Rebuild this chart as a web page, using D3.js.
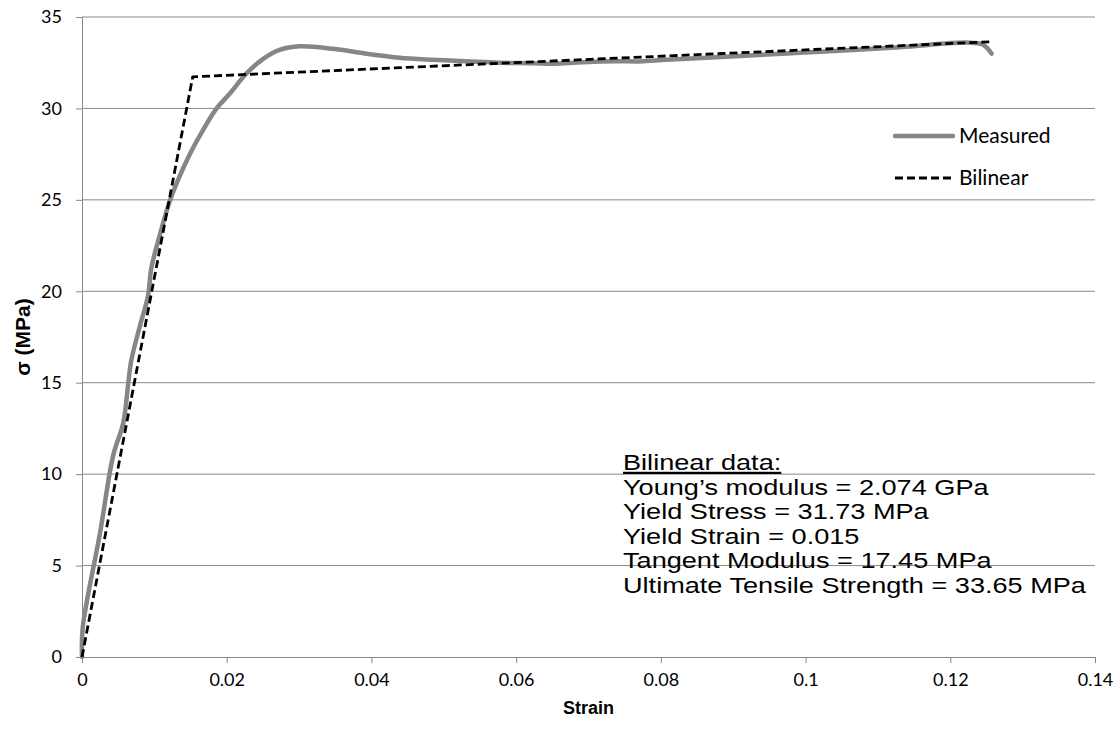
<!DOCTYPE html>
<html>
<head>
<meta charset="utf-8">
<script src="https://cdn.jsdelivr.net/npm/d3@7"></script>
<style>
  body { margin: 0; background: #fff; }
  svg { display: block; }
</style>
</head>
<body>
<div id="chart"></div>
<script>
// Dados
const measuredStrain = [0, 0.0001, 0.0025, 0.0043, 0.0057, 0.0064, 0.0068, 0.0080, 0.0091, 0.0096, 0.0107, 0.0121, 0.0135, 0.0149, 0.0167, 0.0186, 0.0204, 0.0227, 0.0250, 0.0273, 0.0301, 0.0347, 0.0393, 0.0439, 0.0485, 0.0531, 0.0577, 0.0623, 0.0651, 0.0692, 0.0739, 0.0771, 0.0808, 0.0877, 0.0992, 0.1130, 0.1222, 0.1245, 0.1257];
const measuredStress = [0, 1.6, 6.8, 11.0, 12.8, 15.0, 16.2, 18.1, 19.7, 21.3, 23.0, 24.9, 26.3, 27.5, 28.8, 30.0, 30.8, 31.9, 32.7, 33.2, 33.4, 33.26, 32.99, 32.77, 32.66, 32.58, 32.5, 32.47, 32.44, 32.53, 32.58, 32.57, 32.66, 32.8, 33.04, 33.35, 33.6, 33.5, 33.0];
const bilinearStrain = [0, 0.0153, 0.1257];
const bilinearStress = [0, 31.73, 33.65];

const xTicks = [0, 0.02, 0.04, 0.06, 0.08, 0.1, 0.12, 0.14];
const yTicks = [0, 5, 10, 15, 20, 25, 30, 35];
const seriesNames = ["Measured", "Bilinear"];
const notes = ["Young’s modulus = 2.074 GPa", "Yield Stress = 31.73 MPa", "Yield Strain = 0.015", "Tangent Modulus = 17.45 MPa", "Ultimate Tensile Strength = 33.65 MPa"];

const W = 1117, H = 730;
const margin = { top: 17, right: 22, bottom: 73, left: 82 };
const width = W - margin.left - margin.right;
const height = H - margin.top - margin.bottom;

const svg = d3.select("#chart").append("svg")
    .attr("width", W)
    .attr("height", H);

const g = svg.append("g")
    .attr("transform", `translate(${margin.left},${margin.top})`);

const x = d3.scaleLinear().domain([0, 0.14]).range([0, width]);
const y = d3.scaleLinear().domain([0, 35]).range([height, 0]);

const gridColor = "#888";
const tickFont = "Lato, 'Open Sans', sans-serif";
const arial = "'Liberation Sans', Arial, sans-serif";

// Grid horizontal
g.append("g")
    .selectAll("line")
    .data(yTicks.filter(d => d > 0))
    .enter()
    .append("line")
    .attr("x1", 0)
    .attr("x2", width)
    .attr("y1", d => y(d))
    .attr("y2", d => y(d))
    .attr("stroke", gridColor)
    .attr("stroke-width", 1);

// Eixos
const xAxis = g.append("g")
    .attr("transform", `translate(0,${height})`)
    .call(d3.axisBottom(x).tickValues(xTicks).tickSize(6).tickSizeOuter(0).tickPadding(10).tickFormat(d => d3.format("")(+d.toFixed(2))));

const yAxis = g.append("g")
    .call(d3.axisLeft(y).tickValues(yTicks).tickSize(6).tickSizeOuter(0).tickPadding(14));

[xAxis, yAxis].forEach(a => {
    a.select(".domain").attr("stroke", gridColor);
    a.selectAll(".tick line").attr("stroke", gridColor);
    a.selectAll(".tick text")
        .attr("fill", "#000")
        .style("font-family", tickFont)
        .style("font-size", "18px");
});

// Curvas
const measured = measuredStrain.map((s, i) => ({ x: s, y: measuredStress[i] }));
const bilinear = bilinearStrain.map((s, i) => ({ x: s, y: bilinearStress[i] }));

g.append("path")
    .datum(measured)
    .attr("fill", "none")
    .attr("stroke", "#868686")
    .attr("stroke-width", 4.5)
    .attr("stroke-linejoin", "round")
    .attr("stroke-linecap", "round")
    .attr("d", d3.line().x(d => x(d.x)).y(d => y(d.y)).curve(d3.curveCatmullRom.alpha(0.5)));

g.append("path")
    .datum(bilinear)
    .attr("fill", "none")
    .attr("stroke", "#000")
    .attr("stroke-width", 2.8)
    .attr("stroke-dasharray", "8,4")
    .attr("stroke-linejoin", "round")
    .attr("d", d3.line().x(d => x(d.x)).y(d => y(d.y)));

// Legenda
const legend = svg.append("g").attr("transform", "translate(895,136)");
const legendStyles = [
    { stroke: "#868686", width: 4.5, dash: null },
    { stroke: "#000", width: 2.8, dash: "8,4" }
];
seriesNames.forEach((name, i) => {
    const row = legend.append("g").attr("transform", `translate(0,${i * 42})`);
    row.append("line")
        .attr("x1", 0).attr("x2", 58)
        .attr("stroke", legendStyles[i].stroke)
        .attr("stroke-width", legendStyles[i].width)
        .attr("stroke-dasharray", legendStyles[i].dash)
        .attr("stroke-linecap", i === 0 ? "round" : "butt");
    row.append("text")
        .attr("x", 64)
        .attr("dy", "0.35em")
        .style("font-family", tickFont)
        .style("font-size", "21px")
        .text(name);
});

// Títulos dos eixos
svg.append("text")
    .attr("x", margin.left + width / 2)
    .attr("y", 714)
    .attr("text-anchor", "middle")
    .style("font-family", arial)
    .style("font-weight", "bold")
    .style("font-size", "18px")
    .text("Strain");

svg.append("text")
    .attr("transform", `translate(30,${margin.top + height / 2}) rotate(-90)`)
    .attr("text-anchor", "middle")
    .style("font-family", arial)
    .style("font-weight", "bold")
    .style("font-size", "21px")
    .text("σ (MPa)");

// Caixa de texto com os dados bilineares (texto esticado na horizontal como no original)
const noteBox = svg.append("g");
const note = noteBox.append("text")
    .attr("x", 0)
    .attr("y", 0)
    .style("font-family", arial)
    .style("font-size", "22px")
    .attr("fill", "#000");

note.append("tspan")
    .attr("x", 0)
    .attr("text-decoration", "underline")
    .text("Bilinear data:");

notes.forEach(t => {
    note.append("tspan")
        .attr("x", 0)
        .attr("dy", 24.6)
        .text(t);
});

const noteW = note.node().getBBox().width;
noteBox.attr("transform", `translate(623,470) scale(${464 / noteW},1)`);
</script>
</body>
</html>
